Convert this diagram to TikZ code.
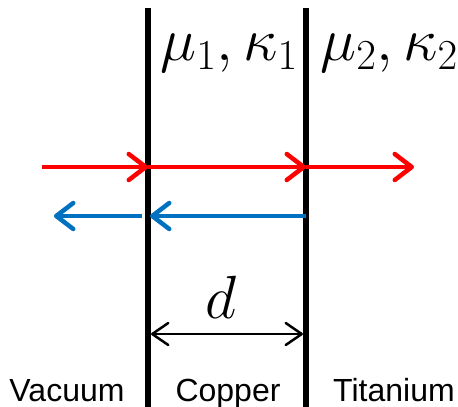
\RequirePackage{fix-cm}
\documentclass[tikz,border=0pt]{standalone}
\usepackage{fontspec}
\setsansfont{Liberation Sans}
\usetikzlibrary{arrows.meta}
\begin{document}
\begin{tikzpicture}[x=1pt,y=-1pt,
  wall/.style={line width=6pt},
  redray/.style={draw={rgb,255:red,255;green,0;blue,0},line width=4.5pt,-{Straight Barb[length=17pt,width=26pt,round]}},
  blueray/.style={draw={rgb,255:red,0;green,112;blue,192},line width=4.5pt,-{Straight Barb[length=17pt,width=26pt,round]}},
  dim/.style={line width=2.5pt,{Straight Barb[length=16pt,width=22pt,round]}-{Straight Barb[length=16pt,width=22pt,round]}},
  lab/.style={font=\sffamily\fontsize{32}{32}\selectfont,anchor=base,inner sep=0pt},
  mathlab/.style={font=\fontsize{61}{61}\selectfont,inner sep=0pt}]
\useasboundingbox (0,0) rectangle (458,407);
\coordinate (wl1) at (148,8);
\coordinate (wl2) at (148,407);
\coordinate (wr1) at (306,8);
\coordinate (wr2) at (306,407);
\draw[wall] (wl1) -- (wl2);
\draw[wall] (wr1) -- (wr2);
\coordinate (r0) at (42,167);
\coordinate (r1) at (148,167);
\coordinate (r2) at (306,167);
\coordinate (r3) at (414,167);
\draw[redray] (r0) -- (r1);
\draw[redray] (r1) -- (r2);
\draw[redray] (r2) -- (r3);
\coordinate (b0) at (306,216);
\coordinate (b1) at (150,216);
\coordinate (b2) at (142,216);
\coordinate (b3) at (54,216);
\draw[blueray] (b0) -- (b1);
\draw[blueray] (b2) -- (b3);
\coordinate (d0) at (151,334);
\coordinate (d1) at (303,334);
\draw[dim] (d0) -- (d1);
\node[mathlab,anchor=base] (dl) at (221,318) {$d$};
\node[mathlab,anchor=base] (m1) at (229,60) {$\mu_1,\kappa_1$};
\node[mathlab,anchor=base] (m2) at (389,60) {$\mu_2,\kappa_2$};
\node[lab] (vac) at (67,401) {Vacuum};
\node[lab] (cop) at (228,401) {Copper};
\node[lab] (tit) at (394,401) {Titanium};
\end{tikzpicture}
\end{document}
